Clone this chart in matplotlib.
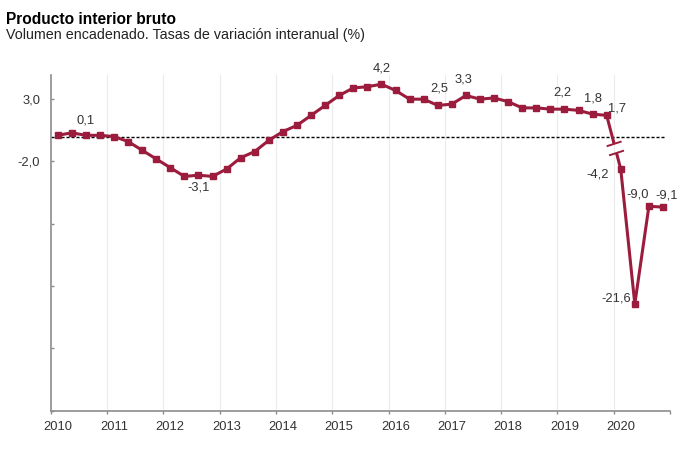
import matplotlib
matplotlib.use("Agg")
import matplotlib.pyplot as plt
import matplotlib.transforms as mtransforms
from matplotlib.ticker import FixedLocator, FixedFormatter

plt.rcParams['font.family'] = ['Liberation Sans', 'DejaVu Sans']

# PIB, tasa interanual (%), trimestral 2010T1 - 2019T4
pib = [0.1, 0.3, 0.1, 0.1,
       0.0, -0.4, -1.1, -1.8,
       -2.5, -3.2, -3.1, -3.2,
       -2.6, -1.7, -1.2, -0.3,
       0.4, 0.9, 1.7, 2.5,
       3.3, 3.9, 4.0, 4.2,
       3.7, 3.0, 3.0, 2.5,
       2.6, 3.3, 3.0, 3.1,
       2.8, 2.3, 2.3, 2.2,
       2.2, 2.1, 1.8, 1.7]
# 2020 (tramo con eje cortado)
pib_2020 = [-4.2, -21.6, -9.0, -9.1]

anio_inicio = 2010
anios = list(range(2010, 2022))
anios_txt = [str(a) for a in range(2010, 2021)] + [""]
yticks = [-22, -17, -12, -7, -2, 3]
yticks_txt = ["", "", "", "", "-2,0", "3,0"]

# etiquetas: indice -> desplazamiento en pixeles
etiq = {2: (0, 15), 10: (0, -12), 23: (0, 16), 27: (2, 17), 29: (-2, 16),
        36: (-2, 17), 38: (0, 16), 39: (10, 7)}
etiq_2020 = {0: (-23, -5), 1: (-19, 5), 2: (-11, 12), 3: (4, 12)}

color = "#9b1c3c"
gris = "#333333"
k = 0.622  # compresion de la parte cortada

fig = plt.figure(figsize=(6.9, 4.54), dpi=100)
ax = fig.add_axes([50.7 / 690, 1 - 410.7 / 454, (670 - 50.7) / 690, (410.7 - 75) / 454])
ymin, ymax = -22, 4.94
ax.set_xlim(2010, 2021)
ax.set_ylim(ymin, ymax)

ax2 = ax.twinx()
ax2.set_ylim(ymin / k, ymax / k)
ax2.axis("off")

x = [anio_inicio + (i + 0.5) / 4 for i in range(len(pib))]
x20 = [2020 + (i + 0.5) / 4 for i in range(len(pib_2020))]

for a in anios[1:]:
    ax.axvline(a, color="#ebebeb", lw=0.8, zorder=0)

ax.axhline(0, xmin=0, xmax=(664 - 50.7) / (670 - 50.7), color="black",
           lw=1.0, dashes=(2.2, 1.4), zorder=1)

ax.plot(x, pib, color=color, lw=2.2, marker="s", ms=5, zorder=3)
ax2.plot(x20, pib_2020, color=color, lw=2.2, marker="s", ms=5, zorder=3)

# tramo de union con corte del eje
p0 = ax.transData.transform((x[-1], pib[-1]))
p1 = ax2.transData.transform((x20[0], pib_2020[0]))
inv = ax.transData.inverted()


def punto(t):
    return p0 + (p1 - p0) * t


ta, tb = 0.53, 0.70
for a, b in [(0, ta), (tb, 1)]:
    seg = inv.transform([punto(a), punto(b)])
    ax.plot(seg[:, 0], seg[:, 1], color=color, lw=2.2, zorder=3,
            solid_capstyle="butt")
for t in (ta, tb):
    c = punto(t)
    seg = inv.transform([c + [-6.5, -2.1], c + [6.5, 2.1]])
    ax.plot(seg[:, 0], seg[:, 1], color=color, lw=1.4, zorder=4)


def fmt(v):
    return f"{v:.1f}".replace(".", ",")


for i, (dx, dy) in etiq.items():
    ax.annotate(fmt(pib[i]), (x[i], pib[i]), xytext=(dx, dy),
                textcoords="offset pixels", ha="center", va="center",
                fontsize=9.3, color=gris)
for i, (dx, dy) in etiq_2020.items():
    ax2.annotate(fmt(pib_2020[i]), (x20[i], pib_2020[i]), xytext=(dx, dy),
                 textcoords="offset pixels", ha="center", va="center",
                 fontsize=9.3, color=gris)

ax.xaxis.set_major_locator(FixedLocator(anios))
ax.xaxis.set_major_formatter(FixedFormatter(anios_txt))
ax.yaxis.set_major_locator(FixedLocator(yticks))
ax.yaxis.set_major_formatter(FixedFormatter(yticks_txt))
ax.tick_params(axis="x", direction="out", length=2.5, width=1, color="#8c8c8c",
               labelsize=9.3, labelcolor=gris, pad=5)
ax.tick_params(axis="y", direction="in", length=2.5, width=1, color="#8c8c8c",
               labelsize=9.3, labelcolor=gris, pad=7.5)
desplaza = mtransforms.ScaledTranslation(7 / 100, 0, fig.dpi_scale_trans)
for lbl in ax.get_xticklabels():
    lbl.set_transform(lbl.get_transform() + desplaza)

for s in ("top", "right"):
    ax.spines[s].set_visible(False)
for s in ("left", "bottom"):
    ax.spines[s].set_color("#8c8c8c")
    ax.spines[s].set_linewidth(1.2)

fig.text(6 / 690, 1 - 24 / 454, "Producto interior bruto", fontsize=11.2,
         fontweight="bold", color="black", va="baseline")
fig.text(6 / 690, 1 - 38.5 / 454,
         "Volumen encadenado. Tasas de variación interanual (%)",
         fontsize=10.3, color="#222222", va="baseline")

fig.savefig("out.png", dpi=100)
